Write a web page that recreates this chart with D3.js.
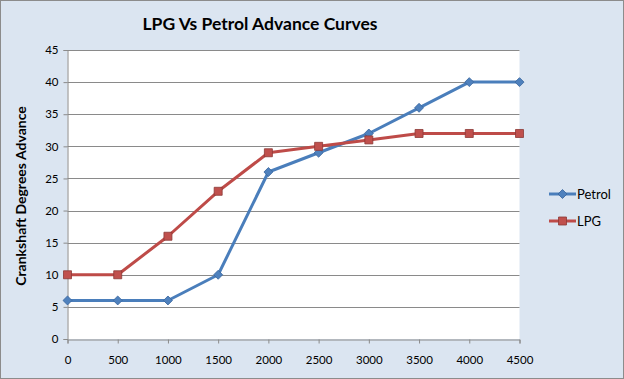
<!DOCTYPE html>
<html>
<head>
<meta charset="utf-8">
<script src="https://cdnjs.cloudflare.com/ajax/libs/d3/7.8.5/d3.min.js"></script>
<style>
  body { margin: 0; padding: 0; background: #fff; }
  svg { display: block; font-family: Lato, "Open Sans", sans-serif; }
</style>
</head>
<body>
<script>
// chart values
var rpm = [0, 500, 1000, 1500, 2000, 2500, 3000, 3500, 4000, 4500];
var petrol = [6, 6, 6, 10, 26, 29, 32, 36, 40, 40];
var lpg = [10, 10, 16, 23, 29, 30, 31, 32, 32, 32];
var yTicks = [0, 5, 10, 15, 20, 25, 30, 35, 40, 45];

var w = 624, h = 379;
var margin = {left: 67.5, right: 104.5, top: 50, bottom: 40};

var svg = d3.select("body").append("svg")
    .attr("width", w)
    .attr("height", h);

// background panel
svg.append("rect")
    .attr("x", 0.5).attr("y", 0.5)
    .attr("width", w - 1).attr("height", h - 1)
    .attr("fill", "#dbe5f1")
    .attr("stroke", "#8c8c8c");

var x = d3.scaleLinear().domain([0, 4500]).range([margin.left, w - margin.right]);
var y = d3.scaleLinear().domain([0, 45]).range([h - margin.bottom, margin.top]);

// plot area
svg.append("rect")
    .attr("x", x(0)).attr("y", y(45))
    .attr("width", x(4500) - x(0)).attr("height", y(0) - y(45))
    .attr("fill", "#fff");

// gridlines
svg.append("g")
    .selectAll("line")
    .data(yTicks.filter(d => d > 0))
    .enter()
    .append("line")
    .attr("x1", x(0)).attr("x2", x(4500))
    .attr("y1", d => Math.round(y(d)) + 0.5)
    .attr("y2", d => Math.round(y(d)) + 0.5)
    .attr("stroke", "#8a8a8a")
    .attr("stroke-width", 1);

// axes
var yAxis = svg.append("g")
    .attr("transform", "translate(" + x(0) + ",0)")
    .call(d3.axisLeft(y).tickValues(yTicks).tickSize(4).tickPadding(5));
var xAxis = svg.append("g")
    .attr("transform", "translate(0," + (Math.round(y(0)) + 0.5) + ")")
    .call(d3.axisBottom(x).tickValues(rpm).tickSize(4).tickPadding(12).tickFormat(d3.format("d")));

[yAxis, xAxis].forEach(function(a) {
    a.select(".domain").attr("stroke", "#8a8a8a");
    a.selectAll(".tick line").attr("stroke", "#8a8a8a");
    a.selectAll("text")
        .attr("fill", "#000")
        .attr("font-size", "11.5px")
        .attr("font-family", "Lato, sans-serif");
});

// title
svg.append("text")
    .attr("x", 260)
    .attr("y", 30)
    .attr("text-anchor", "middle")
    .attr("font-size", "17.5px")
    .attr("font-weight", "bold")
    .attr("fill", "#000")
    .text("LPG Vs Petrol Advance Curves");

svg.append("text")
    .attr("transform", "translate(26," + 196 + ") rotate(-90)")
    .attr("text-anchor", "middle")
    .attr("font-size", "14px")
    .attr("font-weight", "bold")
    .attr("fill", "#000")
    .text("Crankshaft Degrees Advance");

// series
var series = [
    {name: "Petrol", values: petrol, color: "#4a7ebb", mark: "#4f81bd", edge: "#3a679e", rot: 45, size: 40},
    {name: "LPG", values: lpg, color: "#be4b48", mark: "#c0504d", edge: "#8c3836", rot: 0, size: 64}
];

var line = d3.line()
    .x((d, i) => x(rpm[i]))
    .y(d => y(d));

var marker = function(s) { return d3.symbol().type(d3.symbolSquare).size(s.size)(); };

series.forEach(function(s) {
    svg.append("path")
        .datum(s.values)
        .attr("d", line)
        .attr("fill", "none")
        .attr("stroke", s.color)
        .attr("stroke-width", 3)
        .attr("stroke-linejoin", "round");

    svg.append("g")
        .selectAll("path")
        .data(s.values)
        .enter()
        .append("path")
        .attr("transform", (d, i) => "translate(" + x(rpm[i]) + "," + y(d) + ") rotate(" + s.rot + ")")
        .attr("d", marker(s))
        .attr("fill", s.mark)
        .attr("stroke", s.edge)
        .attr("stroke-width", 0.8);
});

// legend
var legend = svg.append("g")
    .selectAll("g")
    .data(series)
    .enter()
    .append("g")
    .attr("transform", (d, i) => "translate(549," + (194 + i * 27) + ")");

legend.append("line")
    .attr("x1", 0).attr("x2", 27)
    .attr("stroke", d => d.color)
    .attr("stroke-width", 3);
legend.append("path")
    .attr("transform", d => "translate(13.5,0) rotate(" + d.rot + ")")
    .attr("d", d => marker(d))
    .attr("fill", d => d.mark)
    .attr("stroke", d => d.edge)
    .attr("stroke-width", 0.8);
legend.append("text")
    .attr("x", 28)
    .attr("y", 4.5)
    .attr("font-size", "13px")
    .attr("fill", "#000")
    .text(d => d.name);
</script>
</body>
</html>
